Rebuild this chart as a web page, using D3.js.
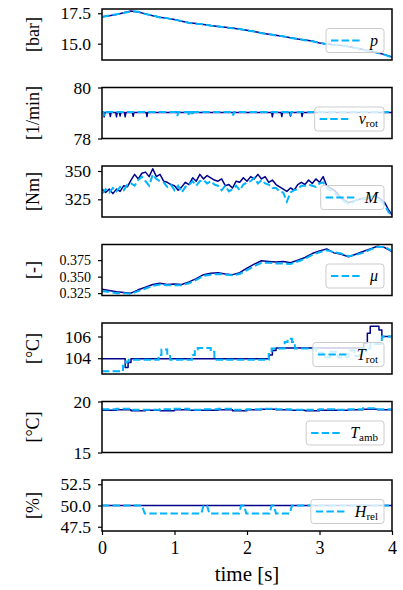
<!DOCTYPE html>
<html>
<head>
<meta charset="utf-8">
<script src="https://cdn.jsdelivr.net/npm/d3@7"></script>
<style>
body { margin: 0; background: #fff; }
svg text { font-family: 'Liberation Serif', serif; fill: #000; }
</style>
</head>
<body>
<div id="chart"></div>
<script>
// ---- time grids (s) ----
var tTenths = [0,0.1,0.2,0.3,0.4,0.5,0.6,0.7,0.8,0.9,1,1.1,1.2,1.3,1.4,1.5,1.6,1.7,1.8,1.9,2,
    2.1,2.2,2.3,2.4,2.5,2.6,2.7,2.8,2.9,3,3.1,3.2,3.3,3.4,3.5,3.6,3.7,3.8,3.9,4];
var tTwentieths = [0,0.05,0.1,0.15,0.2,0.25,0.3,0.35,0.4,0.45,0.5,0.55,0.6,0.65,0.7,0.75,0.8,0.85,0.9,0.95,
    1,1.05,1.1,1.15,1.2,1.25,1.3,1.35,1.4,1.45,1.5,1.55,1.6,1.65,1.7,1.75,1.8,1.85,1.9,1.95,
    2,2.05,2.1,2.15,2.2,2.25,2.3,2.35,2.4,2.45,2.5,2.55,2.6,2.65,2.7,2.75,2.8,2.85,2.9,2.95,
    3,3.05,3.1,3.15,3.2,3.25,3.3,3.35,3.4,3.45,3.5,3.55,3.6,3.65,3.7,3.75,3.8,3.85,3.9,3.95,4];
var tFifths = [0,0.2,0.4,0.6,0.8,1,1.2,1.4,1.6,1.8,2,2.2,2.4,2.6,2.8,3,3.2,3.4,3.6,3.8,4];

// ---- pressure p [bar] ----
var pSolid = [17.22,17.30,17.40,17.55,17.68,17.60,17.45,17.30,17.18,17.08,16.98,16.85,16.72,16.66,16.58,
    16.50,16.42,16.35,16.28,16.18,16.10,16.00,15.88,15.78,15.70,15.60,15.48,15.38,15.30,15.22,
    15.05,14.98,14.92,14.85,14.76,14.65,14.52,14.40,14.25,14.10,13.90];
var pDashed = [17.20,17.31,17.42,17.53,17.66,17.62,17.43,17.32,17.16,17.10,16.96,16.86,16.70,16.64,16.60,
    16.48,16.43,16.33,16.27,16.20,16.08,16.01,15.86,15.80,15.68,15.61,15.47,15.40,15.28,15.20,
    15.07,14.96,14.90,14.86,14.74,14.66,14.50,14.38,14.26,14.08,13.88];

// ---- rotational speed v_rot [1/min] ----
var vrotSolidT = [0,0.02,0.03,0.04,0.105,0.115,0.125,0.19,0.2,0.21,0.24,0.25,0.26,0.31,0.32,0.33,
    0.42,0.43,0.44,0.61,0.62,0.63,2.34,2.35,2.36,2.47,2.48,2.49,2.59,2.6,2.61,2.75,2.76,2.77,4];
var vrotSolid = [79.02,79.02,78.85,79.02,79.02,78.86,79.02,79.02,78.85,79.02,79.02,78.88,79.02,79.02,78.85,79.02,
    79.02,78.87,79.02,79.02,78.86,79.02,79.02,78.85,79.02,79.02,78.86,79.02,79.02,78.88,79.02,79.02,78.86,79.02,79.02];
var vrotDashedT = [0,0.02,0.03,0.04,1.03,1.04,1.05,1.19,1.2,1.21,1.24,1.25,1.26,1.8,1.81,1.82,2.59,2.6,2.61,4];
var vrotDashed = [79.04,79.04,78.88,79.04,79.04,78.88,79.04,79.04,78.87,79.04,79.04,78.9,79.04,79.04,78.9,79.04,
    79.04,78.9,79.04,79.04];

// ---- torque M [Nm] ----
var mSolid = [334,331,334,330,334,332,337,336,342,347,343,348,349,345,352,345,347,341,340,338,
    337,333,336,340,338,344,341,347,343,346,344,342,341,343,337,338,335,341,340,344,
    341,345,343,347,343,345,340,342,338,336,334,332,335,333,338,340,338,342,339,343,
    340,345,337,335,333,330,326,324,322,323,324,325,326,325,327,328,327,325,322,316,311];
var mDashed = [330,334,331,335,332,336,333,338,339,337,342,345,341,337,347,343,341,340,336,338,
    333,337,331,336,338,341,337,341,342,339,341,338,337,333,337,332,334,337,333,338,
    340,341,344,339,342,339,338,335,335,332,331,323,331,333,334,337,337,338,337,336,
    339,340,335,333,331,328,325,323,321,322,324,326,325,327,326,328,326,323,320,314,310];

// ---- friction coefficient mu [-] ----
var muSolid = [0.331,0.329,0.327,0.326,0.325,0.330,0.334,0.338,0.340,0.338,0.339,0.338,0.342,0.347,0.353,
    0.355,0.356,0.354,0.353,0.356,0.363,0.369,0.374,0.373,0.372,0.373,0.371,0.375,0.379,0.385,
    0.389,0.392,0.386,0.384,0.380,0.384,0.388,0.392,0.396,0.394,0.388];
var muDashed = [0.328,0.327,0.325,0.325,0.324,0.328,0.332,0.336,0.338,0.337,0.337,0.337,0.340,0.345,0.351,
    0.353,0.354,0.353,0.352,0.354,0.360,0.366,0.371,0.371,0.370,0.370,0.369,0.373,0.377,0.383,
    0.387,0.390,0.387,0.385,0.381,0.383,0.386,0.391,0.395,0.395,0.389];

// ---- rotor temperature T_rot [°C] (steps) ----
var trotSolidT = [0,0.32,0.36,0.40,2.30,2.35,2.40,3.61,3.66,3.70,3.82,3.86,4];
var trotSolid = [103.95,103.15,103.6,103.95,104.3,104.7,104.95,105.4,106.3,106.95,106.6,106.0,106.0];
var trotDashedT = [0,0.29,0.33,0.37,0.78,0.82,0.90,0.94,1.24,1.28,1.32,1.50,1.55,2.30,2.34,2.52,2.56,2.62,
    2.66,2.95,3.05,3.15,3.25,3.40,3.48,3.56,3.70,3.86,4];
var trotDashed = [102.8,103.3,103.7,103.85,104.3,104.8,104.3,103.85,104.3,104.8,104.95,104.6,103.85,104.4,104.9,
    105.5,105.8,105.5,104.9,104.5,104.1,104.6,104.1,104.7,104.2,104.9,105.3,106.0,106.0];

// ---- ambient temperature T_amb [°C] (steps) ----
var tambSolid = [19.15,19.2,19.1,19.15,19.1,19.2,19.15,19.15,19.2,19.1,19.2,19.25,19.2,19.15,19.1,
    19.15,19.15,19.2,19.25,19.2,19.1];
var tambDashed = [19.25,19.3,19.2,19.2,19.25,19.3,19.2,19.25,19.3,19.2,19.25,19.3,19.25,19.2,19.2,
    19.25,19.2,19.25,19.35,19.25,19.3];

// ---- relative humidity H_rel [%] ----
var hrelSolidT = [0,4];
var hrelSolid = [50.0,50.0];
var hrelDashedT = [0,0.55,0.59,1.37,1.40,1.45,1.48,1.89,1.92,1.96,1.99,2.31,2.34,2.37,2.40,2.59,2.62,4];
var hrelDashed = [50,50,49.05,49.05,50,50,49.05,49.05,50,50,49.05,49.05,50,50,49.05,49.05,50,50];

// ---- axis ticks ----
var xTicks = [0,1,2,3,4];

var panels = [
    {ylabel:"[bar]", domain:[13.66,17.85], ticks:[15,17.5], fmt:".1f", tickSize:17.5,
        solid:[tTenths,pSolid], dashed:[tTenths,pDashed], curve:d3.curveLinear, sym:"p", sub:""},
    {ylabel:"[1/min]", domain:[78,80], ticks:[78,80], fmt:"d", tickSize:17.5,
        solid:[vrotSolidT,vrotSolid], dashed:[vrotDashedT,vrotDashed], curve:d3.curveLinear, sym:"v", sub:"rot"},
    {ylabel:"[Nm]", domain:[309.4,354.4], ticks:[325,350], fmt:"d", tickSize:17.5,
        solid:[tTwentieths,mSolid], dashed:[tTwentieths,mDashed], curve:d3.curveLinear, sym:"M", sub:""},
    // three tightly packed ticks here, so a slightly smaller label size
    {ylabel:"[-]", domain:[0.3214,0.3987], ticks:[0.325,0.35,0.375], fmt:".3f", tickSize:14,
        solid:[tTenths,muSolid], dashed:[tTenths,muDashed], curve:d3.curveLinear, sym:"\u03bc", sub:""},
    {ylabel:"[\u00b0C]", domain:[102.55,107.24], ticks:[104,106], fmt:"d", tickSize:17.5,
        solid:[trotSolidT,trotSolid], dashed:[trotDashedT,trotDashed], curve:d3.curveStepAfter, sym:"T", sub:"rot"},
    {ylabel:"[\u00b0C]", domain:[15,20], ticks:[15,20], fmt:"d", tickSize:17.5,
        solid:[tFifths,tambSolid], dashed:[tFifths,tambDashed], curve:d3.curveStepAfter, sym:"T", sub:"amb"},
    {ylabel:"[%]", domain:[47,53], ticks:[47.5,50,52.5], fmt:".1f", tickSize:17.5,
        solid:[hrelSolidT,hrelSolid], dashed:[hrelDashedT,hrelDashed], curve:d3.curveLinear, sym:"H", sub:"rel"}
];

var width = 403, height = 590;
var left = 102, right = 392;
var top0 = 9, step = 78.5, panelH = 51;
var darkColor = "#00008b", lightColor = "#00b4ff";
var serif = "'Liberation Serif', serif";

var svg = d3.select("#chart").append("svg")
    .attr("width", width)
    .attr("height", height)
    .attr("font-family", serif);

var x = d3.scaleLinear().domain([0, 4]).range([left, right]);

panels.forEach(function(pan, i) {
    var top = top0 + i * step, bottom = top + panelH;
    var y = d3.scaleLinear().domain(pan.domain).range([bottom, top]);
    var g = svg.append("g");

    g.append("clipPath").attr("id", "clip-" + i)
        .append("rect").attr("x", left).attr("y", top).attr("width", right - left).attr("height", panelH);

    var line = d3.line()
        .x(function(d) { return x(d[0]); })
        .y(function(d) { return y(d[1]); })
        .curve(pan.curve);

    var solidPts = d3.zip(pan.solid[0], pan.solid[1]);
    var dashedPts = d3.zip(pan.dashed[0], pan.dashed[1]);

    var lines = g.append("g").attr("clip-path", "url(#clip-" + i + ")");
    lines.append("path").datum(solidPts)
        .attr("d", line)
        .attr("fill", "none")
        .attr("stroke", darkColor)
        .attr("stroke-width", 1.5)
        .attr("stroke-linejoin", "round");
    lines.append("path").datum(dashedPts)
        .attr("d", line)
        .attr("fill", "none")
        .attr("stroke", lightColor)
        .attr("stroke-width", 2)
        .attr("stroke-dasharray", "7.4,3.2");

    // y axis ticks
    var yAxis = d3.axisLeft(y).tickValues(pan.ticks).tickSize(4).tickPadding(7)
        .tickFormat(d3.format(pan.fmt));
    var ya = g.append("g").attr("transform", "translate(" + left + ",0)").call(yAxis)
        .attr("font-family", serif).attr("font-size", pan.tickSize);
    ya.select(".domain").remove();
    ya.selectAll(".tick line").attr("stroke", "#000").attr("stroke-width", 1.2);

    // frame
    g.append("rect")
        .attr("x", left).attr("y", top)
        .attr("width", right - left).attr("height", panelH)
        .attr("fill", "none").attr("stroke", "#000").attr("stroke-width", 1.5);

    // y label
    g.append("text")
        .attr("transform", "translate(39," + (top + panelH / 2) + ") rotate(-90)")
        .attr("text-anchor", "middle")
        .attr("font-size", 18)
        .text(pan.ylabel);

    // legend
    var boxRight = 384, boxBottom = bottom - 7.5, boxH = 24;
    var leg = g.append("g");
    var box = leg.append("rect");
    var lt = leg.append("text")
        .attr("x", boxRight - 6)
        .attr("y", boxBottom - boxH / 2 + 5)
        .attr("text-anchor", "end")
        .attr("font-size", 16);
    lt.append("tspan").attr("font-style", "italic").text(pan.sym);
    if (pan.sub) lt.append("tspan").attr("font-size", 11).attr("dy", 3).text(pan.sub);
    var tw = lt.node().getComputedTextLength();
    var boxLeft = boxRight - 6 - tw - 9 - 35;
    box.attr("x", boxLeft).attr("y", boxBottom - boxH)
        .attr("width", boxRight - boxLeft).attr("height", boxH)
        .attr("rx", 3)
        .attr("fill", "#fff").attr("fill-opacity", 0.8)
        .attr("stroke", "#cccccc").attr("stroke-width", 1);
    leg.append("line")
        .attr("x1", boxLeft + 5).attr("x2", boxLeft + 35)
        .attr("y1", boxBottom - boxH / 2).attr("y2", boxBottom - boxH / 2)
        .attr("stroke", lightColor).attr("stroke-width", 2)
        .attr("stroke-dasharray", "7.4,3.2");
    lt.raise();

    if (i === panels.length - 1) {
        var xAxis = d3.axisBottom(x).tickValues(xTicks).tickSize(4).tickPadding(6)
            .tickFormat(d3.format("d"));
        var xa = g.append("g").attr("transform", "translate(0," + bottom + ")").call(xAxis)
            .attr("font-family", serif).attr("font-size", 18);
        xa.select(".domain").remove();
        xa.selectAll(".tick line").attr("stroke", "#000").attr("stroke-width", 1.2);
        g.append("text")
            .attr("x", (left + right) / 2)
            .attr("y", 581)
            .attr("text-anchor", "middle")
            .attr("font-size", 21)
            .text("time [s]");
    }
});
</script>
</body>
</html>
